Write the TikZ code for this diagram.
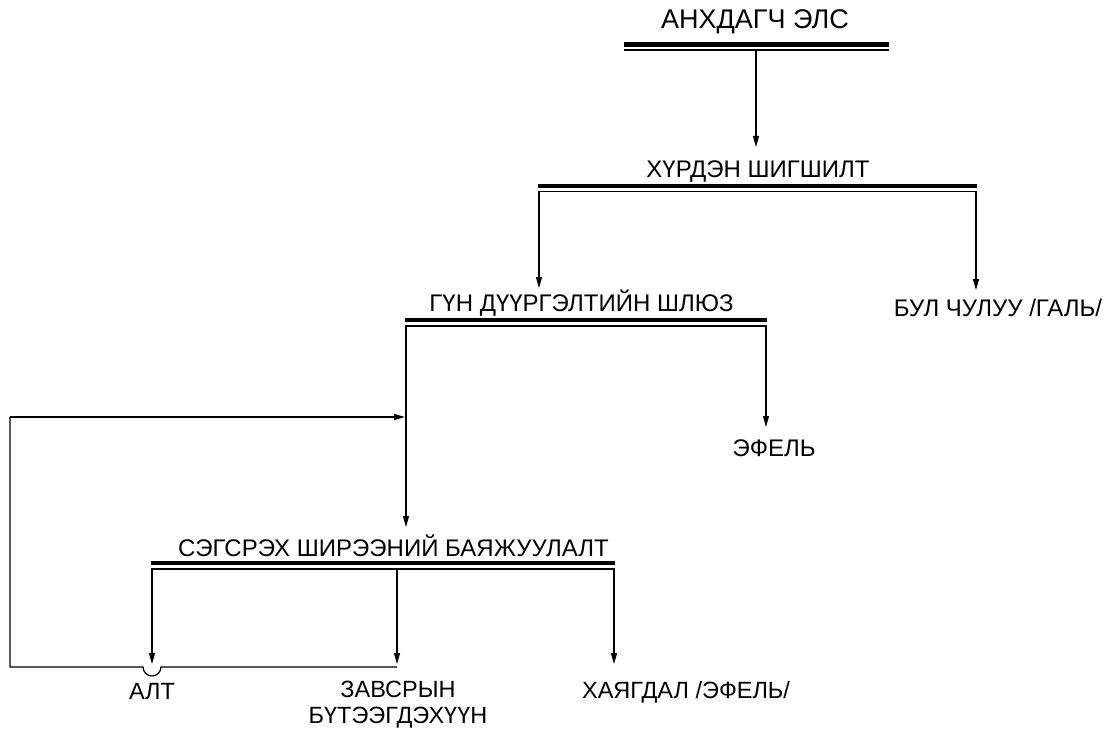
\documentclass[tikz,border=0pt]{standalone}
\usepackage{fontspec}
\setmainfont{Liberation Sans}
\usetikzlibrary{arrows.meta}
\begin{document}
\begin{tikzpicture}[x=1pt,y=-1pt,
  lbl/.style={inner sep=0pt,font=\fontsize{24}{28}\selectfont},
  smlbl/.style={inner sep=0pt,font=\fontsize{23.5}{26}\selectfont},
  toplbl/.style={inner sep=0pt,font=\fontsize{27}{31}\selectfont},
  thickbar/.style={line width=4.5pt},
  thinbar/.style={line width=1.3pt},
  flow/.style={line width=1.2pt,-{Triangle[length=11pt,width=6pt]}},
  link/.style={line width=1.2pt}]
\useasboundingbox (0,0) rectangle (1108,733);
% labels
\node[toplbl] (t1) at (755,22) {АНХДАГЧ ЭЛС};
\node[lbl] (t2) at (758,172) {ХҮРДЭН ШИГШИЛТ};
\node[lbl] (t3) at (581.5,303) {ГҮН ДҮҮРГЭЛТИЙН ШЛЮЗ};
\node[lbl] (t4) at (998,308) {БУЛ ЧУЛУУ /ГАЛЬ/};
\node[lbl] (t5) at (774,448) {ЭФЕЛЬ};
\node[lbl] (t6) at (393.5,546) {СЭГСРЭХ ШИРЭЭНИЙ БАЯЖУУЛАЛТ};
\node[smlbl] (t7) at (152,692) {АЛТ};
\node[smlbl,align=center] (t8) at (398,705) {ЗАВСРЫН\\БҮТЭЭГДЭХҮҮН};
\node[smlbl] (t9) at (686,692) {ХАЯГДАЛ /ЭФЕЛЬ/};
% bars
\coordinate (b1l) at (624,50); \coordinate (b1r) at (889,50);
\coordinate (b2l) at (538,191.5); \coordinate (b2r) at (977,191.5);
\coordinate (b3l) at (405,326); \coordinate (b3r) at (767,326);
\coordinate (b4l) at (151,569); \coordinate (b4r) at (615,569);
\draw[thickbar] ([yshift=5.5pt]b1l) -- ([yshift=5.5pt]b1r);
\draw[thinbar] (b1l) -- (b1r);
\draw[thickbar] ([yshift=5.5pt]b2l) -- ([yshift=5.5pt]b2r);
\draw[thinbar] (b2l) -- (b2r);
\draw[thickbar] ([yshift=6pt]b3l) -- ([yshift=6pt]b3r);
\draw[thinbar] (b3l) -- (b3r);
\draw[thickbar] ([yshift=6pt]b4l) -- ([yshift=6pt]b4r);
\draw[thinbar] (b4l) -- (b4r);
% arrow end points
\coordinate (s1) at (756,50); \coordinate (e1) at (756,147);
\coordinate (s2) at (539,191.5); \coordinate (e2) at (539,288);
\coordinate (s3) at (976,191.5); \coordinate (e3) at (976,290);
\coordinate (s4) at (406,326); \coordinate (e4) at (406,527);
\coordinate (s5) at (766,326); \coordinate (e5) at (766,427);
\coordinate (s6) at (152,569); \coordinate (e6) at (152,664);
\coordinate (s7) at (397,569); \coordinate (e7) at (397,664);
\coordinate (s8) at (614,569); \coordinate (e8) at (614,664);
\draw[flow] (s1) -- (e1);
\draw[flow] (s2) -- (e2);
\draw[flow] (s3) -- (e3);
\draw[flow] (s4) -- (e4);
\draw[flow] (s5) -- (e5);
\draw[flow] (s6) -- (e6);
\draw[flow] (s7) -- (e7);
\draw[flow] (s8) -- (e8);
% recycle loop
\coordinate (r0) at (397,667);
\coordinate (r1) at (161,667);
\coordinate (r2) at (10,667);
\coordinate (r3) at (10,417);
\coordinate (r4) at (405,417);
\draw[link] (r0) -- (r1) arc[start angle=0,end angle=180,radius=9] -- (r2) -- (r3);
\draw[flow] (r3) -- (r4);
\end{tikzpicture}
\end{document}
